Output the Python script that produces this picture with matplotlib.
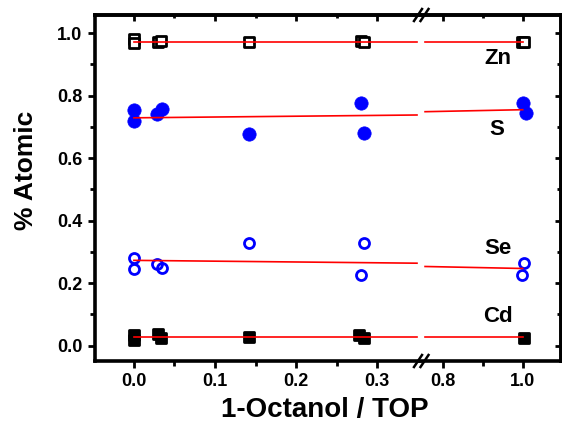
import numpy as np
import matplotlib.pyplot as plt
from matplotlib.markers import MarkerStyle
from matplotlib.ticker import FixedLocator, MultipleLocator

plt.rcParams['font.family'] = ['Liberation Sans', 'DejaVu Sans']
plt.rcParams['font.weight'] = 'bold'

# data
zn_x = [0.0, 0.0, 0.030, 0.033, 0.142, 0.280, 0.284, 0.998, 1.003]
zn_y = [0.980, 0.970, 0.972, 0.974, 0.972, 0.975, 0.973, 0.972, 0.972]

s_x = [0.0, 0.0, 0.029, 0.0345, 0.142, 0.280, 0.284, 1.0, 1.008]
s_y = [0.754, 0.719, 0.742, 0.757, 0.677, 0.778, 0.679, 0.778, 0.746]

se_x = [0.0, 0.0, 0.028, 0.035, 0.142, 0.280, 0.284, 0.999, 1.003]
se_y = [0.281, 0.245, 0.262, 0.248, 0.327, 0.225, 0.327, 0.226, 0.263]

cd_x = [0.0, 0.0, 0.030, 0.033, 0.142, 0.278, 0.284, 1.003]
cd_y = [0.033, 0.018, 0.036, 0.026, 0.029, 0.033, 0.025, 0.026]

# linear fits (intercept, slope)
fit_b = [0.973, 0.729, 0.273, 0.029]
fit_m = [0.0, 0.026, -0.026, 0.0]

names = ['Zn', 'S', 'Se', 'Cd']
name_x = [0.938, 0.935, 0.938, 0.938]
name_y = [0.918, 0.691, 0.312, 0.092]

W, H = 562, 424
fig = plt.figure(figsize=(W / 100, H / 100), dpi=100)


def box(x0, x1, y0=15, y1=361):
    return [x0 / W, 1 - y1 / H, (x1 - x0) / W, (y1 - y0) / H]


ax1 = fig.add_axes(box(95, 420))
ax2 = fig.add_axes(box(420, 561))

sq = MarkerStyle('s', joinstyle='round')
blue = '#0000ff'

for ax, seg in [(ax1, (0.0, 0.349)), (ax2, (0.755, 1.0))]:
    ax.plot(zn_x, zn_y, ls='none', marker=sq, ms=6.8, mew=2.0,
            mfc='white', mec='black', zorder=3)
    ax.plot(s_x, s_y, ls='none', marker='o', ms=9.6, mew=0.5,
            mfc=blue, mec=blue, zorder=3)
    ax.plot(se_x, se_y, ls='none', marker='o', ms=7.2, mew=2.0,
            mfc='none', mec=blue, zorder=3)
    ax.plot(cd_x, cd_y, ls='none', marker=sq, ms=7.0, mew=2.0,
            mfc='black', mec='black', zorder=3)
    xs = np.array(seg)
    for b, m in zip(fit_b, fit_m):
        ax.plot(xs, b + m * xs, color='red', lw=1.2, zorder=4)
    ax.set_ylim(-0.049, 1.058)
    for sp in ax.spines.values():
        sp.set_linewidth(2.6)
    ax.tick_params(axis='both', which='major', direction='out', length=5,
                   width=2, labelsize=13, pad=4)
    ax.tick_params(axis='both', which='minor', direction='out', length=3.5,
                   width=2)
    ax.tick_params(top=False, right=False, which='both')

ax1.set_xlim(-0.048, 0.3527)
ax2.set_xlim(0.7423, 1.0961)
ax1.spines['right'].set_visible(False)
ax2.spines['left'].set_visible(False)

ax1.xaxis.set_major_locator(FixedLocator([0.0, 0.1, 0.2, 0.3]))
ax1.xaxis.set_minor_locator(FixedLocator([0.05, 0.15, 0.25]))
ax2.xaxis.set_major_locator(FixedLocator([0.8, 1.0]))
ax2.xaxis.set_minor_locator(FixedLocator([0.9]))
ax1.xaxis.set_major_formatter(lambda v, p: f'{v:.1f}')
ax2.xaxis.set_major_formatter(lambda v, p: f'{v:.1f}')

ax1.yaxis.set_major_locator(MultipleLocator(0.2))
ax1.yaxis.set_minor_locator(MultipleLocator(0.1))
ax1.yaxis.set_major_formatter(lambda v, p: f'{v:.1f}')
ax2.tick_params(axis='y', which='both', left=False, labelleft=False)

# inward ticks on top and right
for ax in (ax1, ax2):
    top = ax.secondary_xaxis('top')
    top.xaxis.set_major_locator(ax.xaxis.get_major_locator())
    top.xaxis.set_minor_locator(ax.xaxis.get_minor_locator())
    top.tick_params(which='major', direction='in', length=4.5, width=2,
                    labeltop=False)
    top.tick_params(which='minor', direction='in', length=2.5, width=2)
    top.spines['top'].set_linewidth(2.6)
right = ax2.secondary_yaxis('right')
right.yaxis.set_major_locator(MultipleLocator(0.2))
right.yaxis.set_minor_locator(MultipleLocator(0.1))
right.tick_params(which='major', direction='in', length=4, width=2,
                  labelright=False)
right.tick_params(which='minor', direction='in', length=3, width=2)
right.spines['right'].set_linewidth(2.6)

for n, x, y in zip(names, name_x, name_y):
    ax2.text(x, y, n, fontsize=16, fontweight='bold', ha='center',
             va='center')

# break marks
for yb in (15, 361):
    for xb in (418, 424.5):
        fig.add_artist(plt.Line2D([(xb - 4) / W, (xb + 4) / W],
                                  [1 - (yb + 6) / H, 1 - (yb - 6) / H],
                                  color='black', lw=1.8))

fig.text(325 / W, 1 - 410 / H, '1-Octanol / TOP', fontsize=20,
         fontweight='bold', ha='center', va='center')
fig.text(26 / W, 1 - 170 / H, '% Atomic', fontsize=19, fontweight='bold',
         ha='center', va='center', rotation=90)

fig.savefig('out.png', dpi=100)
